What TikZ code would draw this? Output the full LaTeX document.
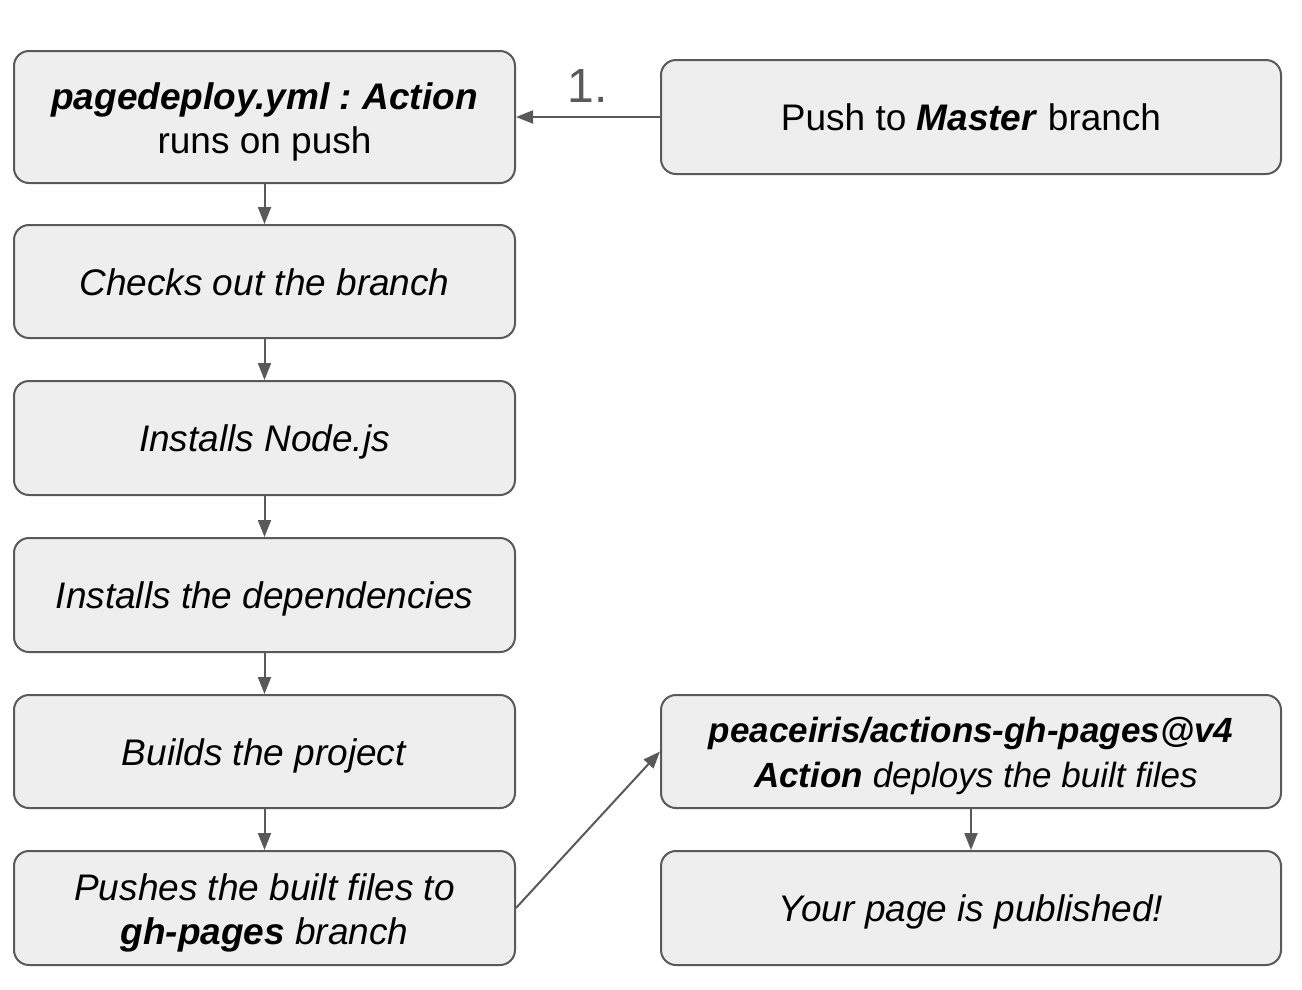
\documentclass[tikz,border=0pt]{standalone}
\usepackage{fontspec}
\setmainfont{Liberation Sans}
\usetikzlibrary{arrows.meta}
\definecolor{boxfill}{HTML}{EEEEEE}
\definecolor{boxline}{HTML}{595959}
\frenchspacing
\begin{document}
\begin{tikzpicture}[x=1pt,y=-1pt,
  stepbox/.style={draw=boxline, fill=boxfill, line width=2pt, rounded corners=15pt,
    align=center, inner sep=0pt, text=black,
    font=\fontsize{37}{44}\selectfont},
  oneline/.style={text height=27pt, text depth=0pt},
  leftbox/.style={stepbox, minimum width=501pt},
  rightbox/.style={stepbox, minimum width=620pt},
  twotext/.style={align=center, inner sep=0pt, text=black,
    font=\fontsize{37}{44}\selectfont},
  conn/.style={draw=boxline, line width=2pt, -{Triangle[length=17pt,width=13pt]}}
]
\useasboundingbox (0,0) rectangle (1302,989);

\node[leftbox, minimum height=132pt] (deploy) at (264.5,117) {};
\node[twotext] (deploytext) at ([yshift=-5pt]deploy.center)
  {\textbf{\textit{pagedeploy.yml : Action}}\\runs on push};
\node[leftbox, oneline, minimum height=113pt] (checkout) at (264.5,281.5)
  {\textit{Checks out the branch}};
\node[leftbox, oneline, minimum height=114pt] (node) at (264.5,438)
  {\textit{Installs Node.js}};
\node[leftbox, oneline, minimum height=114pt] (deps) at (264.5,595)
  {\textit{Installs the dependencies}};
\node[leftbox, oneline, minimum height=113pt] (build) at (264.5,751.5)
  {\textit{Builds the project}};
\node[leftbox, minimum height=114pt] (pushgh) at (264.5,908) {};
\node[twotext] (pushghtext) at ([yshift=-5pt]pushgh.center)
  {\textit{Pushes the built files to}\\\textbf{\textit{gh-pages}} \textit{branch}};

\node[rightbox, oneline, minimum height=114pt] (master) at (971,117)
  {Push to \textbf{\textit{Master}} branch};
\node[rightbox, minimum height=113pt] (peace) at (971,751.5) {};
\node[twotext, font=\fontsize{35}{45}\selectfont] (peacetext) at ([yshift=-4pt]peace.center)
  {\textbf{\textit{peaceiris/actions-gh-pages@v4}}\\\hspace*{0.28em}\textbf{\textit{Action}} \textit{deploys the built files}};
\node[rightbox, oneline, minimum height=114pt] (pub) at (971,908)
  {\textit{Your page is published!}};

\draw[conn] (master) -- node[midway, anchor=base, yshift=15pt, text=boxline,
  font=\fontsize{48}{56}\selectfont] (one) {1.} (deploy);
\draw[conn] (deploy) -- (checkout);
\draw[conn] (checkout) -- (node);
\draw[conn] (node) -- (deps);
\draw[conn] (deps) -- (build);
\draw[conn] (build) -- (pushgh);
\draw[conn] (pushgh.east) -- (peace.west);
\draw[conn] (peace) -- (pub);
\end{tikzpicture}
\end{document}
